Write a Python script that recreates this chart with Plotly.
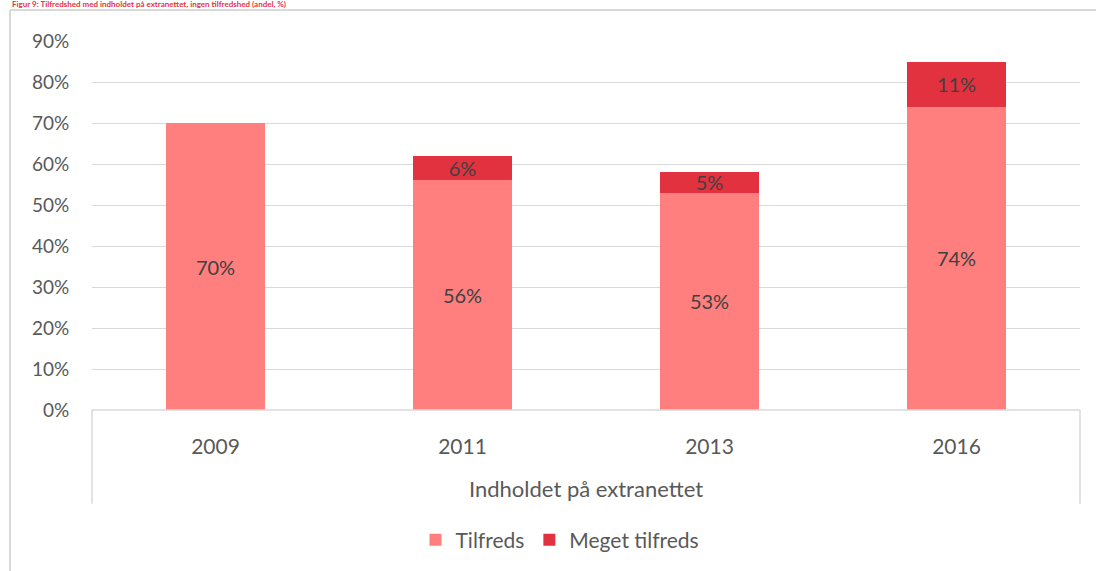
import plotly.graph_objects as go

years = ["2009", "2011", "2013", "2016"]
tilfreds = [70, 56, 53, 74]
meget_tilfreds = [None, 6, 5, 11]
group_label = "Indholdet på extranettet"
title_text = "Figur 9: Tilfredshed med indholdet på extranettet, ingen tilfredshed (andel, %)"

C_TIL = "#FF7F7F"
C_MEG = "#E3323F"
TXT = "#404040"
GRID = "#D9D9D9"
FONT = "Lato, Open Sans, sans-serif"

fig = go.Figure()
fig.add_trace(go.Bar(
    x=years, y=tilfreds, name="Tilfreds", marker_color=C_TIL, marker_line_width=0,
    text=[f"{v}%" for v in tilfreds], textposition="inside", insidetextanchor="middle",
    textfont=dict(size=20, color=TXT, family=FONT), width=0.4,
))
fig.add_trace(go.Bar(
    x=years, y=meget_tilfreds, name="Meget tilfreds", marker_color=C_MEG, marker_line_width=0,
    text=[f"{v}%" if v is not None else "" for v in meget_tilfreds], textposition="inside",
    insidetextanchor="middle", textfont=dict(size=20, color=TXT, family=FONT), width=0.4,
    constraintext="none",
))

L, R, T, B = 92, 16, 41, 160
W, H = 1096, 571
pw, ph = W - L - R, H - T - B

def px(x):
    return (x - L) / pw

def py(y):
    return (H - B - y) / ph

fig.update_layout(
    width=W, height=H, barmode="stack", bargap=0.6,
    margin=dict(l=L, r=R, t=T, b=B),
    paper_bgcolor="white", plot_bgcolor="white",
    font=dict(family=FONT, color="#595959", size=18),
    uniformtext=dict(minsize=10, mode="show"),
    showlegend=True,
    legend=dict(orientation="h", x=px(560), xanchor="center", y=py(540), yanchor="middle",
                font=dict(size=21, color="#595959"), itemwidth=30, traceorder="normal"),
    xaxis=dict(type="category", showgrid=False, showline=False, zeroline=False,
               ticks="outside", ticklen=18, tickcolor="rgba(0,0,0,0)",
               tickfont=dict(size=21, color="#595959")),
    yaxis=dict(range=[0, 90], dtick=10, ticksuffix="%", showgrid=True, gridcolor=GRID,
               gridwidth=1, zeroline=False, showline=False, ticks="outside", ticklen=18,
               tickcolor="rgba(0,0,0,0)", tickfont=dict(size=19, color="#595959"),
               fixedrange=True),
)

line = dict(color=GRID, width=1.5)
# category axis box
fig.add_shape(type="line", xref="paper", yref="paper", x0=0, x1=1, y0=0, y1=0, line=line)
fig.add_shape(type="line", xref="paper", yref="paper", x0=0, x1=0, y0=0, y1=py(505), line=line)
fig.add_shape(type="line", xref="paper", yref="paper", x0=1, x1=1, y0=0, y1=py(505), line=line)
# outer chart frame
fig.add_shape(type="line", xref="paper", yref="paper", x0=px(10), x1=px(1100), y0=py(10), y1=py(10), line=dict(color=GRID, width=2))
fig.add_shape(type="line", xref="paper", yref="paper", x0=px(10), x1=px(10), y0=py(10), y1=py(575), line=dict(color=GRID, width=2))

fig.add_annotation(text=group_label, xref="paper", yref="paper", x=0.5, y=py(490),
                   showarrow=False, font=dict(size=22, color="#595959"), yanchor="middle")
fig.add_annotation(text=f"<b>{title_text}</b>", xref="paper", yref="paper", x=px(10), y=py(4),
                   xanchor="left", yanchor="middle", showarrow=False,
                   font=dict(size=8, color="#E3323F"))

fig.write_html("out.html", config={"displayModeBar": False},
               post_script="document.body.style.margin='0';document.body.style.padding='0';")
